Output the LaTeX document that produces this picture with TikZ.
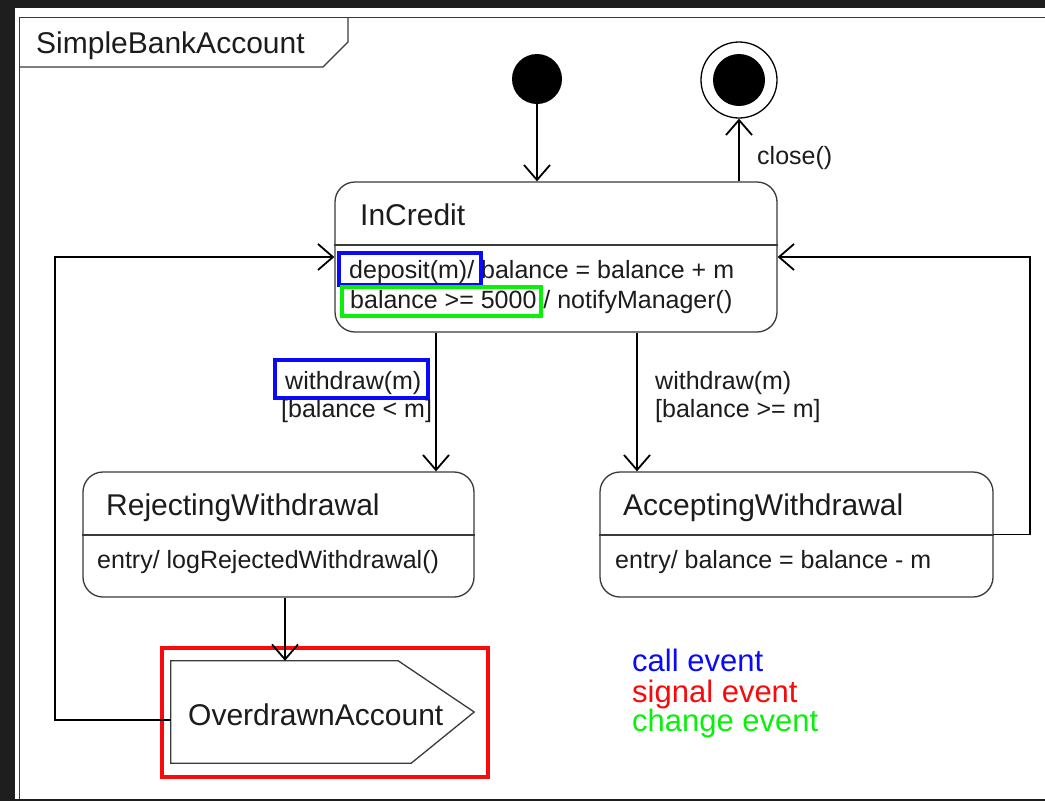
\documentclass[tikz,border=0pt]{standalone}
\usepackage{fontspec}
\setmainfont{Liberation Sans}
\usetikzlibrary{arrows.meta}
\definecolor{ink}{HTML}{1C1C1C}
\definecolor{edge}{HTML}{3A3A3A}
\definecolor{shell}{HTML}{1E1E1E}
\definecolor{callblue}{HTML}{0A0AF8}
\definecolor{sigred}{HTML}{F80A0A}
\definecolor{chggreen}{HTML}{0AF00A}
\begin{document}
\begin{tikzpicture}[x=1pt,y=-1pt,
  state/.style={draw=edge, line width=1.3pt, rounded corners=20pt, inner sep=0pt},
  divider/.style={draw=edge, line width=1.3pt},
  conn/.style={draw=black, line width=1.8pt,
    -{Straight Barb[length=15pt,width=26pt,line width=1.8pt]}},
  head/.style={font=\fontsize{30}{36}\selectfont, text=ink, inner sep=0pt, anchor=base west},
  body/.style={font=\fontsize{25}{30}\selectfont, text=ink, inner sep=0pt, anchor=base west},
  legend/.style={font=\fontsize{31}{37}\selectfont, inner sep=0pt, anchor=base west},
  mark box/.style={line width=3.3pt},
]
\useasboundingbox (0,0) rectangle (1045,801);
% window chrome and canvas
\fill[shell] (0,0) rectangle (1045,801);
\fill[white] (15,8) rectangle (1045,798.5);

% diagram frame with its name tab
\draw[edge, line width=1.3pt] (1045,17.5) -- (19.5,17.5) -- (19.5,799);
\draw[edge, line width=1.3pt] (19.5,67) -- (323,67) -- (348,42) -- (348,17.5);
\node[head] (title) at (36,53) {SimpleBankAccount};

% pseudo states
\node[circle, fill=black, minimum size=50pt, inner sep=0pt] (init) at (537,79) {};
\node[circle, draw=black, line width=1.3pt, minimum size=76pt, inner sep=0pt] (fin) at (739,80) {};
\node[circle, fill=black, minimum size=52pt, inner sep=0pt] (finDot) at (fin.center) {};

% InCredit
\node[state, minimum width=442pt, minimum height=150pt] (inc) at (556,257) {};
\draw[divider] (inc.west |- 0,245) -- (inc.east |- 0,245);
\node[head] (incName) at (360,225) {InCredit};
\node[body] (incDep) at (349,278) {deposit(m)/ balance = balance + m};
\node[body] (incNotify) at (350,308) {balance >= 5000 / notifyManager()};
\draw[callblue, mark box] (339,253) rectangle (481,285);
\draw[chggreen, mark box] (342,287) rectangle (541,316);

% RejectingWithdrawal
\node[state, minimum width=391pt, minimum height=125pt] (rej) at (278.5,534.5) {};
\draw[divider] (rej.west |- 0,535) -- (rej.east |- 0,535);
\node[head] (rejName) at (106,515) {RejectingWithdrawal};
\node[body] (rejEntry) at (97,568) {entry/ logRejectedWithdrawal()};

% AcceptingWithdrawal
\node[state, minimum width=393pt, minimum height=125pt] (acc) at (796.5,534.5) {};
\draw[divider] (acc.west |- 0,535) -- (acc.east |- 0,535);
\node[head] (accName) at (623,515) {AcceptingWithdrawal};
\node[body] (accEntry) at (615,568) {entry/ balance = balance - m};

% OverdrawnAccount (signal)
\node[minimum width=303pt, minimum height=102pt, inner sep=0pt] (over) at (322.5,712) {};
\draw[edge, line width=1.3pt] (over.north west) -- ([xshift=-76pt]over.north east)
  -- (over.east) -- ([xshift=-63pt]over.south east) -- (over.south west) -- cycle;
\node[head] (overName) at (188,725) {OverdrawnAccount};
\draw[sigred, line width=4.5pt] (162,648) rectangle (488,777);

% transitions
\coordinate (loopL) at (55,500);
\coordinate (loopR) at (1030,400);
\draw[conn] (init.south) -- (init |- inc.north);
\draw[conn] (inc.north -| fin) -- (fin.south);
\node[body] (closeLbl) at (757,164) {close()};

\draw[conn] (inc.south -| 436,0) -- (rej.north -| 436,0);
\node[body] (wdL) at (285,389) {withdraw(m)};
\node[body] (grdL) at (281,417) {[balance < m]};
\draw[callblue, mark box] (275,360) rectangle (428,398);

\draw[conn] (inc.south -| 637,0) -- (acc.north -| 637,0);
\node[body] (wdR) at (655,389) {withdraw(m)};
\node[body] (grdR) at (655,417) {[balance >= m]};

\draw[conn] (rej.south -| 285,0) -- (over.north -| 285,0);
\draw[conn] ([yshift=-8pt]over.west) -| (loopL) |- (inc.west);
\draw[conn] (acc.east) -| (loopR) |- (inc.east);

% legend
\node[legend, text=callblue] (lgCall) at (632,671) {call event};
\node[legend, text=sigred] (lgSignal) at (632,702) {signal event};
\node[legend, text=chggreen] (lgChange) at (632,731) {change event};
\end{tikzpicture}
\end{document}
